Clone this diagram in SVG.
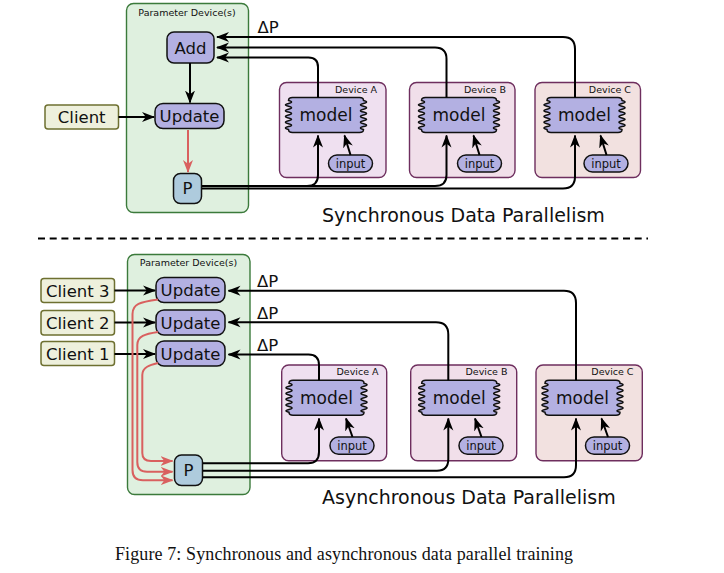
<svg xmlns="http://www.w3.org/2000/svg" xmlns:xlink="http://www.w3.org/1999/xlink" width="724" height="573" viewBox="0 0 724 573">
<style>
text{font-family:"DejaVu Sans","Liberation Sans",sans-serif;fill:#111}
.pd{fill:#dff0df;stroke:#3b7a3b;stroke-width:1.4}
.op{fill:#b3b0e2;stroke:#111;stroke-width:1.5}
.cl{fill:#eef0dc;stroke:#6e7030;stroke-width:1.5}
.pp{fill:#aecbdd;stroke:#111;stroke-width:1.5}
.dA{fill:#efe0f0;stroke:#6e2e5e;stroke-width:1.4}
.dB{fill:#f1dfea;stroke:#6e2e5e;stroke-width:1.4}
.dC{fill:#f2e1e0;stroke:#6e2e5e;stroke-width:1.4}
.t16{font-size:16.5px;text-anchor:middle}
.tm{font-size:17px;text-anchor:middle}
.ti{font-size:11.5px;text-anchor:middle}
.td{font-size:9.5px;text-anchor:end}
.tp{font-size:9.5px;text-anchor:middle}
.tt{font-size:19px}
.c{fill:none;stroke:#000;stroke-width:2;marker-end:url(#ah)}
.r{fill:none;stroke:#d9605f;stroke-width:2;marker-end:url(#ar)}
</style>
<defs>
<marker id="ah" viewBox="0 0 13 11" refX="12" refY="5.5" markerWidth="13" markerHeight="11" markerUnits="userSpaceOnUse" orient="auto"><path d="M0,0.5 L13,5.5 L0,10.5 L3.8,5.5 Z" fill="#000"/></marker>
<marker id="ar" viewBox="0 0 13 11" refX="12" refY="5.5" markerWidth="13" markerHeight="11" markerUnits="userSpaceOnUse" orient="auto"><path d="M0,0.5 L13,5.5 L0,10.5 L3.8,5.5 Z" fill="#d9605f"/></marker>
<path id="model" class="op" d="M4,0 H71 Q75,0 75,3 q6,1.45 0,2.9 q-6,1.45 0,2.9 q6,1.45 0,2.9 q-6,1.45 0,2.9 q6,1.45 0,2.9 q-6,1.45 0,2.9 q6,1.45 0,2.9 q-6,1.45 0,2.9 q6,1.45 0,2.9 q-6,1.45 0,2.9 Q75,35 71,35 H4 Q0,35 0,32 q-6,-1.45 0,-2.9 q6,-1.45 0,-2.9 q-6,-1.45 0,-2.9 q6,-1.45 0,-2.9 q-6,-1.45 0,-2.9 q6,-1.45 0,-2.9 q-6,-1.45 0,-2.9 q6,-1.45 0,-2.9 q-6,-1.45 0,-2.9 q6,-1.45 0,-2.9 Q0,0 4,0 Z"/>
</defs>

<!-- ============ SYNCHRONOUS ============ -->
<g id="sync-param-device">
<rect class="pd" x="126.5" y="3.5" width="122" height="209" rx="7"/>
<text class="tp" x="187" y="16">Parameter Device(s)</text>
</g>
<g id="sync-add">
<rect class="op" x="167" y="32" width="47" height="31" rx="7"/>
<text class="t16" x="190.5" y="53.5">Add</text>
</g>
<g id="sync-update">
<rect class="op" x="155" y="103.5" width="69" height="25" rx="8"/>
<text class="t16" x="189.5" y="122">Update</text>
</g>
<g id="sync-client">
<rect class="cl" x="45" y="105" width="73.5" height="24" rx="3"/>
<text class="t16" x="81.7" y="123">Client</text>
</g>
<g id="sync-p">
<rect class="pp" x="173.5" y="173.5" width="28" height="30" rx="7"/>
<text class="t16" x="187.5" y="194">P</text>
</g>
<g id="sync-deviceA">
<rect class="dA" x="279.5" y="82.5" width="106.5" height="95" rx="7"/>
<text class="td" x="377" y="92.5">Device A</text>
<use xlink:href="#model" href="#model" x="288.5" y="97.5"/>
<text class="tm" x="326" y="121">model</text>
<rect class="op" x="328.5" y="155" width="44" height="17" rx="8.5"/>
<text class="ti" x="350.5" y="167.5">input</text>
</g>
<g id="sync-deviceB">
<rect class="dB" x="409.5" y="82.5" width="105.5" height="95" rx="7"/>
<text class="td" x="506" y="92.5">Device B</text>
<use xlink:href="#model" href="#model" x="421.5" y="97.5"/>
<text class="tm" x="459" y="121">model</text>
<rect class="op" x="457.5" y="155" width="44" height="17" rx="8.5"/>
<text class="ti" x="479.5" y="167.5">input</text>
</g>
<g id="sync-deviceC">
<rect class="dC" x="535" y="82.5" width="105.5" height="95" rx="7"/>
<text class="td" x="631" y="92.5">Device C</text>
<use xlink:href="#model" href="#model" x="547" y="97.5"/>
<text class="tm" x="584.5" y="121">model</text>
<rect class="op" x="584" y="155" width="44" height="17" rx="8.5"/>
<text class="ti" x="606" y="167.5">input</text>
</g>
<text class="t16" x="268" y="33">ΔP</text>
<text class="tt" x="322" y="221.5">Synchronous Data Parallelism</text>

<!-- ============ ASYNCHRONOUS ============ -->
<g id="async-param-device">
<rect class="pd" x="127.5" y="254.5" width="122.5" height="240" rx="7"/>
<text class="tp" x="188.5" y="265.5">Parameter Device(s)</text>
</g>
<g id="async-update3">
<rect class="op" x="156" y="277.5" width="69" height="25" rx="8"/>
<text class="t16" x="190.5" y="296">Update</text>
</g>
<g id="async-update2">
<rect class="op" x="156" y="310" width="69" height="25" rx="8"/>
<text class="t16" x="190.5" y="328.5">Update</text>
</g>
<g id="async-update1">
<rect class="op" x="156" y="341" width="69" height="25" rx="8"/>
<text class="t16" x="190.5" y="359.5">Update</text>
</g>
<g id="async-client3">
<rect class="cl" x="41" y="278.5" width="73.5" height="24" rx="3"/>
<text class="t16" x="77.7" y="296.5">Client 3</text>
</g>
<g id="async-client2">
<rect class="cl" x="41" y="310.5" width="73.5" height="24.5" rx="3"/>
<text class="t16" x="77.7" y="328.7">Client 2</text>
</g>
<g id="async-client1">
<rect class="cl" x="41" y="341.5" width="73.5" height="24" rx="3"/>
<text class="t16" x="77.7" y="359.5">Client 1</text>
</g>
<g id="async-p">
<rect class="pp" x="174.5" y="455" width="28" height="30.5" rx="7"/>
<text class="t16" x="188.5" y="476">P</text>
</g>
<g id="async-deviceA">
<rect class="dA" x="281.7" y="365" width="105" height="95.7" rx="7"/>
<text class="td" x="378.5" y="374.5">Device A</text>
<use xlink:href="#model" href="#model" x="289" y="380.3"/>
<text class="tm" x="326.5" y="404">model</text>
<rect class="op" x="330" y="437" width="44" height="17.3" rx="8.6"/>
<text class="ti" x="352" y="449.7">input</text>
</g>
<g id="async-deviceB">
<rect class="dB" x="410.7" y="365" width="106" height="95.7" rx="7"/>
<text class="td" x="507.5" y="374.5">Device B</text>
<use xlink:href="#model" href="#model" x="421.7" y="380.3"/>
<text class="tm" x="459.2" y="404">model</text>
<rect class="op" x="459" y="437" width="44" height="17.3" rx="8.6"/>
<text class="ti" x="481" y="449.7">input</text>
</g>
<g id="async-deviceC">
<rect class="dC" x="536" y="365" width="106.3" height="95.7" rx="7"/>
<text class="td" x="633.5" y="374.5">Device C</text>
<use xlink:href="#model" href="#model" x="545" y="380.3"/>
<text class="tm" x="582.5" y="404">model</text>
<rect class="op" x="585.5" y="437" width="44" height="17.3" rx="8.6"/>
<text class="ti" x="607.5" y="449.7">input</text>
</g>
<text class="t16" x="267.5" y="287">ΔP</text>
<text class="t16" x="267.5" y="319">ΔP</text>
<text class="t16" x="267.5" y="351">ΔP</text>
<text class="tt" x="322" y="503.5">Asynchronous Data Parallelism</text>

<line x1="38" y1="238.5" x2="648" y2="238.5" stroke="#000" stroke-width="2" stroke-dasharray="7 4.7"/>

<text x="115" y="559.5" textLength="458" lengthAdjust="spacing" style="font-family:'Liberation Serif','Times New Roman',serif;font-size:18px">Figure 7: Synchronous and asynchronous data parallel training</text>

<g id="connectors">
<!-- sync -->
<path class="c" d="M190,63 V102.5"/>
<path class="c" d="M118.5,117 H154"/>
<path class="r" d="M188,130 V172"/>
<path class="c" d="M575,97.5 V49 Q575,37 563,37 H217"/>
<path class="c" d="M446.5,97.5 V59 Q446.5,47.5 435,47.5 H217"/>
<path class="c" d="M318,97.5 V67 Q318,57.5 308.5,57.5 H217"/>
<path class="c" d="M202,186 H307 Q318,186 318,175 V135.5"/>
<path class="c" d="M202,186 H435 Q446.5,186 446.5,175 V135.5"/>
<path class="c" d="M202,188.5 H563 Q575,188.5 575,176.5 V135.5"/>
<path class="c" d="M350.5,155 L344.5,135.5"/>
<path class="c" d="M479.5,155 L473.5,135.5"/>
<path class="c" d="M606.5,155 L600.5,135.5"/>
<!-- async -->
<path class="c" d="M114.5,290.5 H155"/>
<path class="c" d="M114.5,322.5 H155"/>
<path class="c" d="M114.5,354 H155"/>
<path class="c" d="M576,380.3 V303 Q576,290.7 564,290.7 H228.5"/>
<path class="c" d="M448.3,380.3 V334.5 Q448.3,322.3 436,322.3 H228.5"/>
<path class="c" d="M319,380.3 V365 Q319,354.5 308.5,354.5 H228.5"/>
<path class="c" d="M203,463.3 H308 Q319,463.3 319,452 V418.5"/>
<path class="c" d="M203,470.7 H437 Q448.3,470.7 448.3,459 V418.5"/>
<path class="c" d="M203,477.3 H564 Q576,477.3 576,465 V418.5"/>
<path class="c" d="M352.5,437 L346,418.5"/>
<path class="c" d="M481.5,437 L475,418.5"/>
<path class="c" d="M608,437 L601.5,418.5"/>
<path class="r" d="M158,299.5 C140,302 132.5,304 132.5,314 V470 Q132.5,480.3 143,480.3 H172.5"/>
<path class="r" d="M158,332 C145,334 137.3,336 137.3,345 V462 Q137.3,471.7 147,471.7 H172.5"/>
<path class="r" d="M158,363 C150,365 142.3,367 142.3,375 V453 Q142.3,461 151,461 H172.5"/>
</g>
</svg>
